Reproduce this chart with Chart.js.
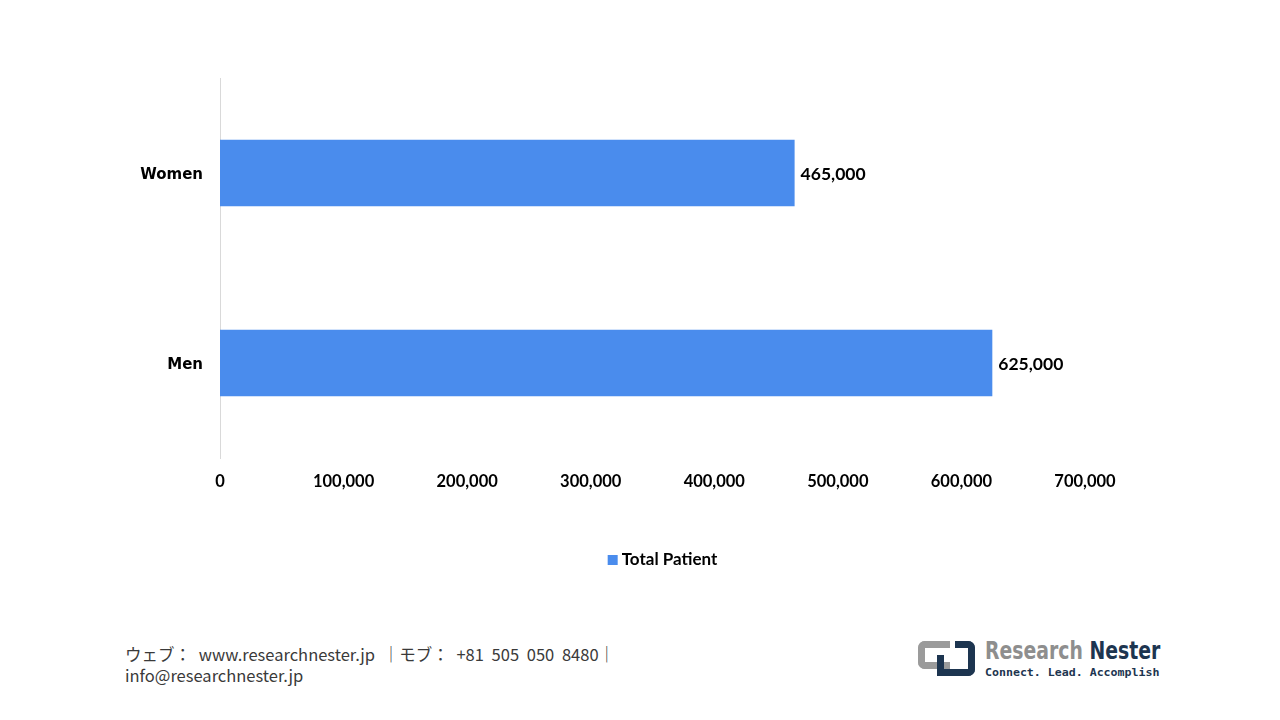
<!DOCTYPE html>
<html>
<head>
<meta charset="utf-8">
<script src="https://cdn.jsdelivr.net/npm/chart.js@4.4.1/dist/chart.umd.min.js"></script>
<style>
  html, body { margin: 0; padding: 0; background: #fff; }
  #page { position: relative; width: 1280px; height: 720px; overflow: hidden; }
  #chartBox { position: absolute; left: 0; top: 0; width: 1280px; height: 578px; }
  .footer { position: absolute; left: 125px; top: 644px; font-family: "Noto Sans CJK JP", sans-serif; font-size: 16.5px; line-height: 21px; color: #3a3a3a; white-space: nowrap; }
  .footer #footLine { word-spacing: 4px; }
  .logo { position: absolute; left: 914px; top: 640px; width: 250px; height: 40px; }
  .logo .gray { position: absolute; left: 4px; top: 1px; width: 32px; height: 28px; border: 7px solid #9b9b9b; border-right: none; border-radius: 7px 0 0 7px; box-sizing: border-box; }
  .logo .navyA { position: absolute; left: 23px; top: 15px; width: 38px; height: 21px; border: 7px solid #1d3550; border-top: none; border-radius: 0 0 7px 0; box-sizing: border-box; }
  .logo .navyB { position: absolute; left: 41px; top: 1px; width: 20px; height: 20px; border-top: 7px solid #1d3550; border-right: 7px solid #1d3550; border-radius: 0 7px 0 0; box-sizing: border-box; }
  .logo .name { position: absolute; left: 71px; top: -4px; font-family: "DejaVu Sans Condensed", sans-serif; font-weight: bold; font-size: 25px; white-space: nowrap; transform-origin: 0 0; }
  .logo .name .r { color: #8e8e8e; }
  .logo .name .n { color: #1d3550; }
  .logo .tag { position: absolute; left: 71px; top: 27px; font-family: "DejaVu Sans Mono", monospace; font-weight: bold; font-size: 10px; color: #1d3550; white-space: nowrap; transform-origin: 0 0; }
</style>
</head>
<body>
<div id="page">
  <div id="chartBox"><canvas id="barChart"></canvas></div>
  <div class="footer">
    <span id="footLine">ウェブ： www.researchnester.jp ｜モブ： +81 505 050 8480｜</span><br>
    info@researchnester.jp
  </div>
  <div class="logo">
    <div class="gray"></div><div class="navyA"></div><div class="navyB"></div>
    <div class="name" id="logoName"><span class="r">Research</span> <span class="n">Nester</span></div>
    <div class="tag" id="logoTag">Connect. Lead. Accomplish</div>
  </div>
</div>
<script>
// Chart data
const categories = ['Women', 'Men'];
const patientValues = [465000, 625000];
const seriesName = 'Total Patient';
const axisMax = 700000;
const axisStep = 100000;

const barColor = '#4a8ced';
const labelFont = 'Lato, "Open Sans", sans-serif';

// squeeze logo text to the width it has in the picture
function fitWidth(id, target) {
    const el = document.getElementById(id);
    const w = el.offsetWidth;
    el.style.transform = 'scaleX(' + (target / w) + ')';
}
fitWidth('logoName', 175);
fitWidth('logoTag', 175);

// draws the value next to each bar
const valueLabels = {
    id: 'valueLabels',
    afterDatasetsDraw(chart) {
        const ctx = chart.ctx;
        ctx.save();
        ctx.font = 'bold 17.5px ' + labelFont;
        ctx.fillStyle = '#000';
        ctx.textAlign = 'left';
        ctx.textBaseline = 'middle';
        chart.getDatasetMeta(0).data.forEach(function(bar, i) {
            const v = chart.data.datasets[0].data[i];
            ctx.fillText(v.toLocaleString('en-US'), bar.x + 6, bar.y + 1);
        });
        ctx.restore();
    }
};

// legend centred under the plot like the original
const bottomLegend = {
    id: 'bottomLegend',
    afterDraw(chart) {
        const ctx = chart.ctx;
        const area = chart.chartArea;
        ctx.save();
        ctx.font = 'bold 17px ' + labelFont;
        const textW = ctx.measureText(seriesName).width;
        const total = 10 + 4 + textW;
        const cx = (area.left + area.right) / 2 + 10;
        const x0 = cx - total / 2;
        const y = 560;
        ctx.fillStyle = barColor;
        ctx.fillRect(x0, y - 5, 10, 10);
        ctx.fillStyle = '#000';
        ctx.textAlign = 'left';
        ctx.textBaseline = 'middle';
        ctx.fillText(seriesName, x0 + 14, y);
        ctx.restore();
    }
};

new Chart(document.getElementById('barChart'), {
    type: 'bar',
    data: {
        labels: categories,
        datasets: [{
            label: seriesName,
            data: patientValues,
            backgroundColor: barColor,
            borderWidth: 0,
            barPercentage: 0.7,
            categoryPercentage: 0.5
        }]
    },
    options: {
        indexAxis: 'y',
        responsive: true,
        maintainAspectRatio: false,
        animation: false,
        layout: { padding: { top: 78, right: 195, left: 0, bottom: 36 } },
        plugins: {
            tooltip: { enabled: false },
            legend: { display: false }
        },
        scales: {
            x: {
                min: 0,
                max: axisMax,
                ticks: {
                    stepSize: axisStep,
                    padding: 6,
                    color: '#000',
                    font: { family: labelFont, size: 16.5, weight: 'bold' },
                    callback: function(v) { return v.toLocaleString('en-US'); }
                },
                grid: { display: false },
                border: { display: false },
                afterFit: function(scale) { scale.height = 84; }
            },
            y: {
                ticks: {
                    padding: 9,
                    labelOffset: 2,
                    color: '#000',
                    font: { family: '"DejaVu Sans", sans-serif', size: 15, weight: 'bold' }
                },
                grid: { display: false },
                border: { display: true, color: '#d9d9d9', width: 1 },
                afterFit: function(scale) { scale.width = 220; }
            }
        }
    },
    plugins: [valueLabels, bottomLegend]
});
</script>
</body>
</html>
